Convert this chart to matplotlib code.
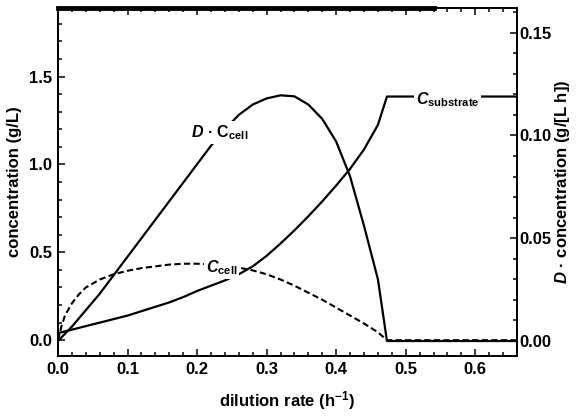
import numpy as np
import matplotlib
matplotlib.use("Agg")
import matplotlib.pyplot as plt
from matplotlib.ticker import MultipleLocator, FormatStrFormatter

plt.rcParams["font.family"] = ["Liberation Sans", "DejaVu Sans"]
plt.rcParams["font.weight"] = "bold"
plt.rcParams["axes.labelweight"] = "bold"
plt.rcParams["mathtext.fontset"] = "custom"
plt.rcParams["mathtext.rm"] = "Liberation Sans:bold"
plt.rcParams["mathtext.it"] = "Liberation Sans:italic:bold"
plt.rcParams["mathtext.bf"] = "Liberation Sans:bold"

# substrate concentration (g/L), left axis
d_sub = [0.0, 0.02, 0.04, 0.06, 0.08, 0.10, 0.12, 0.14, 0.16, 0.18, 0.20, 0.22, 0.24, 0.26,
         0.28, 0.30, 0.32, 0.34, 0.36, 0.38, 0.40, 0.42, 0.44, 0.46, 0.473, 0.66]
c_sub = [0.04, 0.06, 0.08, 0.10, 0.12, 0.14, 0.165, 0.19, 0.215, 0.245, 0.28, 0.31, 0.34, 0.375,
         0.42, 0.48, 0.55, 0.625, 0.705, 0.79, 0.88, 0.975, 1.085, 1.225, 1.386, 1.386]

# cell concentration (g/L), left axis, dashed
d_cell = [0.0, 0.005, 0.01, 0.02, 0.03, 0.04, 0.06, 0.08, 0.10, 0.12, 0.14, 0.16, 0.18, 0.20, 0.22,
          0.24, 0.26, 0.28, 0.30, 0.32, 0.34, 0.36, 0.38, 0.40, 0.42, 0.44, 0.46, 0.473, 0.66]
c_cell = [0.0, 0.08, 0.14, 0.21, 0.26, 0.30, 0.345, 0.375, 0.395, 0.41, 0.42, 0.43, 0.435, 0.435, 0.432,
          0.425, 0.413, 0.397, 0.375, 0.345, 0.31, 0.27, 0.23, 0.185, 0.14, 0.095, 0.045, 0.0, 0.0]

# productivity D*C_cell (g/[L h]), right axis
d_prod = [0.0, 0.02, 0.04, 0.06, 0.08, 0.10, 0.12, 0.14, 0.16, 0.18, 0.20, 0.22, 0.24, 0.26,
          0.28, 0.30, 0.32, 0.34, 0.36, 0.38, 0.40, 0.42, 0.44, 0.46, 0.473, 0.66]
prod = [0.0, 0.007, 0.015, 0.023, 0.032, 0.041, 0.050, 0.059, 0.068, 0.077, 0.086, 0.095, 0.103, 0.110,
        0.115, 0.118, 0.1195, 0.119, 0.115, 0.108, 0.097, 0.080, 0.056, 0.030, 0.0, 0.0]

fig = plt.figure(figsize=(5.76, 4.18), dpi=100)
ax1 = fig.add_axes([0.1007, 0.1483, 0.7969, 0.8327])
ax2 = ax1.twinx()

ax1.plot(d_sub, c_sub, color="k", lw=1.6, zorder=2)
ax1.plot(d_cell, c_cell, color="k", lw=1.5, ls=(0, (3, 1.6)), zorder=2)
ax2.plot(d_prod, prod, color="k", lw=1.6, zorder=2)

ax1.set_xlim(0, 0.66)
ax1.set_ylim(-0.09, 1.89)
ax2.set_ylim(-0.0073, 0.162)

ax1.xaxis.set_major_locator(MultipleLocator(0.1))
ax1.xaxis.set_minor_locator(MultipleLocator(0.02))
ax1.xaxis.set_major_formatter(FormatStrFormatter("%.1f"))
ax1.yaxis.set_major_locator(MultipleLocator(0.5))
ax1.yaxis.set_minor_locator(MultipleLocator(0.1))
ax1.yaxis.set_major_formatter(FormatStrFormatter("%.1f"))
ax2.yaxis.set_major_locator(MultipleLocator(0.05))
ax2.yaxis.set_minor_locator(MultipleLocator(0.01))
ax2.yaxis.set_major_formatter(FormatStrFormatter("%.2f"))

ax1.tick_params(which="both", direction="in", top=True, right=False, labelsize=12, width=1.1, pad=4)
ax1.tick_params(which="major", length=5)
ax1.tick_params(which="minor", length=3)
ax2.tick_params(which="both", direction="in", labelsize=12, width=1.1, pad=2)
ax2.tick_params(which="major", length=5)
ax2.tick_params(which="minor", length=3)

for ax in (ax1, ax2):
    for s in ax.spines.values():
        s.set_linewidth(1.3)

# heavier top edge as in the scanned original
ax1.plot([0, 0.82], [1, 1], transform=ax1.transAxes, color="k", lw=3.5, clip_on=False, zorder=5)

ax1.set_xlabel("dilution rate (h$^{-1}$)", fontsize=12, labelpad=9)
ax1.set_ylabel("concentration (g/L)", fontsize=12, labelpad=5)
ax2.set_ylabel(r"$D$ · concentration (g/[L h])", fontsize=12, labelpad=1)

box = dict(facecolor="white", edgecolor="none", pad=1.5)
ax2.text(0.232, 0.1015, r"$D$ · C$_{\mathrm{cell}}$", fontsize=11.5, ha="center", va="center", bbox=box, zorder=4)
ax1.text(0.235, 0.415, r"$C_{\mathrm{cell}}$", fontsize=11.5, ha="center", va="center", bbox=box, zorder=4)
ax1.text(0.56, 1.37, r"$C_{\mathrm{substrate}}$", fontsize=11.5, ha="center", va="center", bbox=box, zorder=4)

fig.savefig("out.png", dpi=100)
